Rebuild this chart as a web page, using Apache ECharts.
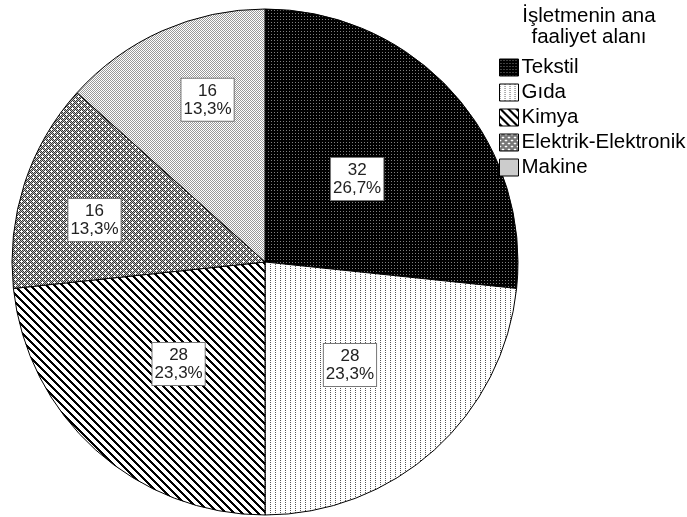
<!DOCTYPE html>
<html>
<head>
<meta charset="utf-8">
<script src="https://cdn.jsdelivr.net/npm/echarts@6/dist/echarts.min.js"></script>
<style>
  html, body { margin: 0; padding: 0; background: #fff; }
  #main { width: 687px; height: 517px; }
</style>
</head>
<body>
<div id="main"></div>
<script>
// veri
var categories = ['Tekstil', 'Gıda', 'Kimya', 'Elektrik-Elektronik', 'Makine']
var counts = [32, 28, 28, 16, 16]
var legendTitle = 'İşletmenin ana\nfaaliyet alanı'
// etiket konumu: yarıçap oranı ve açı kayması (derece, saat yönü)
var labelDist = [0.49, 0.528, 0.528, 0.694, 0.68]
var labelShift = [0, 2.5, -1.7, -4.2, 4.5]

var CX = 265, CY = 262, R = 253
var FONT = 'Liberation Sans, Arial, sans-serif'

// desen (pattern) üretici
function tile (w, h, bg, fn) {
  var c = document.createElement('canvas')
  c.width = w
  c.height = h
  var ctx = c.getContext('2d')
  ctx.fillStyle = bg
  ctx.fillRect(0, 0, w, h)
  for (var y = 0; y < h; y++) {
    for (var x = 0; x < w; x++) {
      var col = fn(x, y)
      if (col) {
        ctx.fillStyle = col
        ctx.fillRect(x, y, 1, 1)
      }
    }
  }
  return { image: c, repeat: 'repeat' }
}

var patterns = [
  // Tekstil: siyah, gri noktalar
  tile(3, 3, '#000', function (x, y) { return (x === 1 && y === 1) ? '#808080' : null }),
  // Gıda: dikey noktalı çizgiler
  tile(5, 2, '#fff', function (x, y) { return (x === 0 && y === 0) ? '#555' : null }),
  // Kimya: ters eğik çizgiler
  tile(8, 8, '#fff', function (x, y) { return ((x - y + 16) % 8) < 3 ? '#000' : null }),
  // Elektrik-Elektronik: artı desen
  tile(6, 6, '#fff', function (x, y) {
    var plus = (x === 3 && y >= 2 && y <= 4) || (y === 3 && x >= 2 && x <= 4)
    var plus2 = (x === 0 && (y === 5 || y === 0 || y === 1)) || (y === 0 && (x === 5 || x === 0 || x === 1))
    if (plus || plus2) return null
    return ((x + y) % 2 === 0) ? '#333' : '#bbb'
  }),
  // Makine: ince dama
  tile(2, 2, '#fff', function (x, y) { return ((x + y) % 2 === 0) ? '#999' : null })
]

var total = counts.reduce(function (a, b) { return a + b }, 0)
var midAngles = []
var acc = 0
counts.forEach(function (v) {
  var a0 = acc / total * 360
  acc += v
  var a1 = acc / total * 360
  midAngles.push((a0 + a1) / 2)
})

var chart = echarts.init(document.getElementById('main'))
chart.setOption({
  animation: false,
  textStyle: { fontFamily: FONT },
  title: {
    text: legendTitle,
    left: 584,
    top: 1,
    textAlign: 'center',
    textStyle: {
      fontSize: 20.5,
      fontWeight: 'normal',
      color: '#000',
      lineHeight: 21,
      fontFamily: FONT
    }
  },
  legend: {
    orient: 'vertical',
    left: 499,
    top: 57,
    itemWidth: 19,
    itemHeight: 17,
    itemGap: 4,
    icon: 'rect',
    padding: 0,
    textStyle: { fontSize: 20.5, lineHeight: 17, color: '#000', padding: [0, 0, 0, -2], fontFamily: FONT },
    itemStyle: { borderColor: '#000', borderWidth: 1 },
    data: categories
  },
  series: [{
    type: 'pie',
    center: [CX, CY],
    radius: R,
    startAngle: 90,
    clockwise: true,
    silent: true,
    itemStyle: { borderColor: '#000', borderWidth: 1 },
    label: {
      show: true,
      position: 'inside',
      formatter: function (p) {
        return p.value + '\n' + (p.value / total * 100).toFixed(1).replace('.', ',') + '%'
      },
      fontSize: 17,
      lineHeight: 18,
      color: '#222',
      fontFamily: FONT,
      backgroundColor: '#fff',
      borderColor: '#777',
      borderWidth: 1,
      padding: [3, 2, 3, 2],
      align: 'center'
    },
    labelLine: { show: false },
    labelLayout: function (params) {
      var i = params.dataIndex
      var ang = (90 - midAngles[i] - labelShift[i]) * Math.PI / 180
      var d = labelDist[i] * R
      return {
        x: CX + d * Math.cos(ang),
        y: CY - d * Math.sin(ang),
        align: 'center',
        verticalAlign: 'middle'
      }
    },
    data: categories.map(function (name, i) {
      return { name: name, value: counts[i], itemStyle: { color: patterns[i] } }
    })
  }]
})
</script>
</body>
</html>
